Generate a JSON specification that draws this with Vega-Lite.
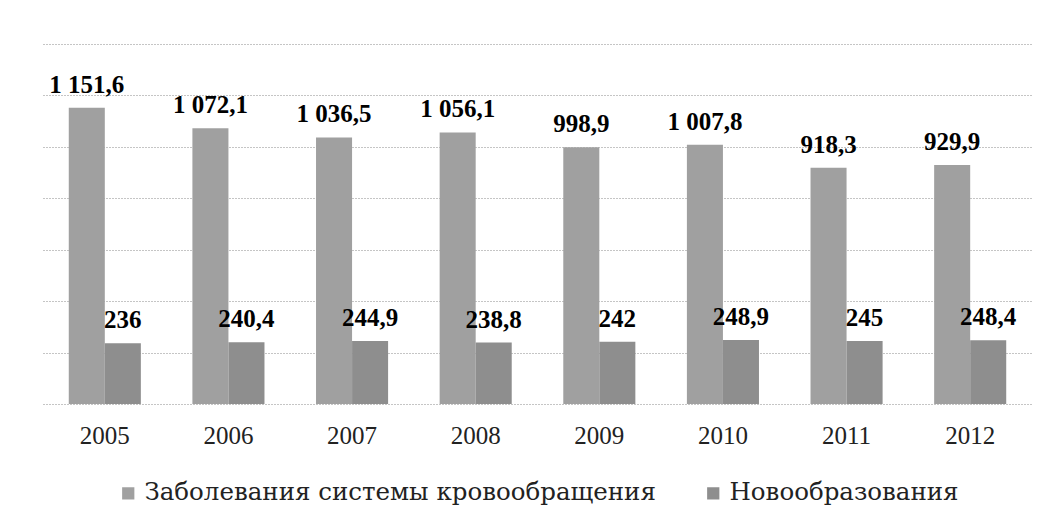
{
  "$schema": "https://vega.github.io/schema/vega-lite/v6.json",
  "width": 989,
  "height": 360,
  "autosize": {"type": "none"},
  "padding": {"left": 43, "top": 44, "right": 18, "bottom": 126},
  "background": "white",
  "config": {
    "view": {"stroke": null},
    "font": "Liberation Serif",
    "legend": {"layout": {"bottom": {"anchor": "middle"}}}
  },
  "data": {
    "values": [
      {"year": "2005", "series": "Заболевания системы кровообращения", "value": 1151.6, "label": "1 151,6"},
      {"year": "2005", "series": "Новообразования", "value": 236, "label": "236"},
      {"year": "2006", "series": "Заболевания системы кровообращения", "value": 1072.1, "label": "1 072,1"},
      {"year": "2006", "series": "Новообразования", "value": 240.4, "label": "240,4"},
      {"year": "2007", "series": "Заболевания системы кровообращения", "value": 1036.5, "label": "1 036,5"},
      {"year": "2007", "series": "Новообразования", "value": 244.9, "label": "244,9"},
      {"year": "2008", "series": "Заболевания системы кровообращения", "value": 1056.1, "label": "1 056,1"},
      {"year": "2008", "series": "Новообразования", "value": 238.8, "label": "238,8"},
      {"year": "2009", "series": "Заболевания системы кровообращения", "value": 998.9, "label": "998,9"},
      {"year": "2009", "series": "Новообразования", "value": 242, "label": "242"},
      {"year": "2010", "series": "Заболевания системы кровообращения", "value": 1007.8, "label": "1 007,8"},
      {"year": "2010", "series": "Новообразования", "value": 248.9, "label": "248,9"},
      {"year": "2011", "series": "Заболевания системы кровообращения", "value": 918.3, "label": "918,3"},
      {"year": "2011", "series": "Новообразования", "value": 245, "label": "245"},
      {"year": "2012", "series": "Заболевания системы кровообращения", "value": 929.9, "label": "929,9"},
      {"year": "2012", "series": "Новообразования", "value": 248.4, "label": "248,4"}
    ]
  },
  "encoding": {
    "x": {
      "field": "year",
      "type": "nominal",
      "scale": {"paddingInner": 0.417, "paddingOuter": 0.2085},
      "axis": {
        "title": null,
        "labelAngle": 0,
        "labelFontSize": 25,
        "labelPadding": 19,
        "ticks": false,
        "domain": false,
        "labelColor": "#222222",
        "labelFont": "Liberation Serif"
      }
    },
    "xOffset": {
      "field": "series",
      "type": "nominal",
      "sort": ["Заболевания системы кровообращения", "Новообразования"],
      "scale": {"paddingInner": 0, "paddingOuter": 0}
    },
    "y": {
      "field": "value",
      "type": "quantitative",
      "scale": {"domain": [0, 1400], "nice": false},
      "axis": {
        "title": null,
        "labels": false,
        "ticks": false,
        "domain": false,
        "values": [0, 200, 400, 600, 800, 1000, 1200, 1400],
        "grid": true,
        "gridDash": [1, 2],
        "gridColor": "#8a8a8a",
        "gridWidth": 1
      }
    }
  },
  "layer": [
    {
      "mark": {"type": "bar"},
      "encoding": {
        "color": {
          "field": "series",
          "type": "nominal",
          "sort": ["Заболевания системы кровообращения", "Новообразования"],
          "scale": {"range": ["#a0a0a0", "#8e8e8e"]},
          "legend": {
            "orient": "bottom",
            "direction": "horizontal",
            "title": null,
            "symbolType": "square",
            "symbolSize": 150,
            "symbolStrokeWidth": 0,
            "labelFontSize": 24.5,
            "labelFont": "DejaVu Serif",
            "labelColor": "#222222",
            "labelLimit": 700,
            "columnPadding": 45,
            "offset": 33
          }
        }
      }
    },
    {
      "mark": {
        "type": "text",
        "baseline": "alphabetic",
        "dy": -15,
        "fontSize": 25,
        "fontWeight": "bold",
        "font": "Liberation Serif",
        "color": "#000000"
      },
      "encoding": {"text": {"field": "label"}}
    }
  ]
}
